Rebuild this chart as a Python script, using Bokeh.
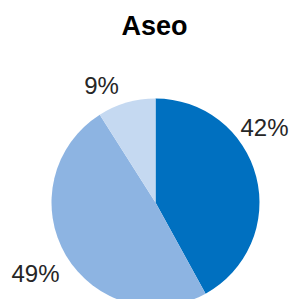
import math
from bokeh.plotting import figure
from bokeh.models import Range1d, ColumnDataSource
from bokeh.core.properties import value
from bokeh.embed import file_html
from bokeh.resources import INLINE

title_text = "Aseo"
categories = ["A", "B", "C"]
values = [42, 49, 9]
labels = ["42%", "49%", "9%"]
colors = ["#0070C0", "#8DB4E2", "#C5D9F1"]

# layout (pixel-like coordinates, y measured downward then negated)
cx, cy, r = 155, 202, 104
label_x = [264, 35, 101]
label_y = [127, 273, 85]

total = sum(values)
starts, ends = [], []
cum = 0.0
for v in values:
    a0 = math.pi / 2 - 2 * math.pi * (cum + v) / total
    a1 = math.pi / 2 - 2 * math.pi * cum / total
    starts.append(a0)
    ends.append(a1)
    cum += v

src = ColumnDataSource(dict(cat=categories, val=values, start=starts, end=ends,
                            color=colors))

W, H = 289, 299
p = figure(width=W, height=H, output_backend="svg", toolbar_location=None,
           x_range=Range1d(0, W), y_range=Range1d(-H, 0), min_border=0,
           outline_line_color=None)
p.axis.visible = False
p.grid.visible = False
p.background_fill_color = "white"
p.border_fill_color = "white"

p.wedge(x=cx, y=-cy, radius=r, start_angle="start", end_angle="end",
        direction="anticlock", fill_color="color", line_color=None, source=src)

p.text(x=label_x, y=[-y for y in label_y], text=labels,
       text_font=value("Liberation Sans"), text_font_size="24px",
       text_color="#262626", text_align="center", text_baseline="middle")

p.text(x=[154], y=[-25], text=[title_text],
       text_font=value("Liberation Sans"), text_font_size="27px",
       text_font_style="bold", text_color="#000000",
       text_align="center", text_baseline="middle")

open("out.html", "w").write(file_html(p, INLINE))
